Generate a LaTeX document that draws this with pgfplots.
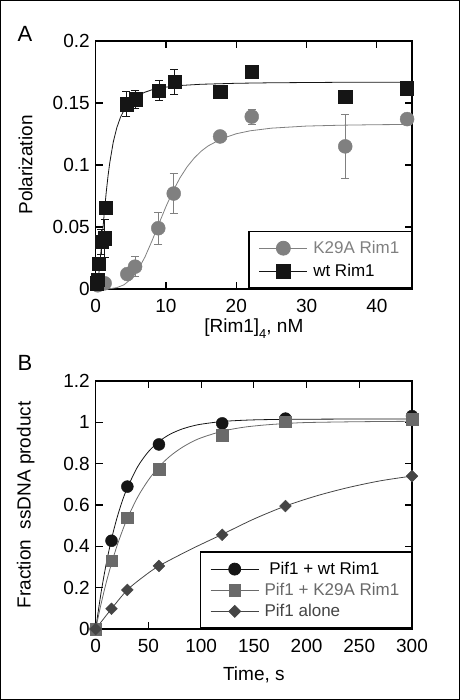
\documentclass[border=0pt]{standalone}
\usepackage{pgfplots}
\pgfplotsset{compat=1.18}
\usepackage{fontspec}
\setmainfont{Liberation Sans}
\definecolor{kgray}{HTML}{808080}
\definecolor{bgray}{HTML}{6A6A6A}
\definecolor{dgray}{HTML}{454545}
\definecolor{wblack}{HTML}{151515}

\pgfplotstableread{
x y e
0.09 0.0046 0.002
0.33 0.0073 0.003
0.47 0.0207 0.005
0.80 0.0380 0.010
1.27 0.0409 0.015
1.37 0.0656 0.003
4.36 0.1490 0.010
5.64 0.1530 0.007
9.00 0.1600 0.008
11.2 0.1670 0.010
17.7 0.1590 0.002
22.2 0.1750 0.002
35.5 0.1550 0.002
44.3 0.1620 0.002
}\wtA

\pgfplotstableread{
x y e
0.30 0.0030 0.002
1.27 0.0046 0.002
4.50 0.0120 0.003
5.60 0.0180 0.008
8.90 0.0490 0.013
11.1 0.0770 0.016
17.7 0.1230 0.002
22.2 0.1390 0.006
35.5 0.1150 0.026
44.3 0.1370 0.003
}\kA

\pgfplotstableread{
x y
0 0
0.25 0.0040
0.5 0.0149
0.75 0.0301
1 0.0469
1.25 0.0633
1.5 0.0781
1.75 0.0910
2 0.1018
2.5 0.1185
3 0.1300
3.5 0.1381
4 0.1440
5 0.1515
6 0.1559
7 0.1587
8 0.1606
10 0.1628
12 0.1641
15 0.1651
20 0.1659
25 0.1663
30 0.1665
35 0.1667
40 0.1667
45 0.1668
}\wtAfit

\pgfplotstableread{
x y
0 0
2 0.0002
3 0.0011
4 0.0033
5 0.0078
6 0.0153
7 0.0257
8 0.0387
9 0.0527
10 0.0665
11 0.0790
12 0.0897
13 0.0985
14 0.1055
15 0.1111
16 0.1154
18 0.1214
20 0.1252
22 0.1276
25 0.1297
30 0.1314
35 0.1321
40 0.1325
45 0.1327
}\kAfit

\pgfplotstableread{
x y
0 0
15 0.427
30 0.689
60 0.893
120 0.995
180 1.018
300 1.030
}\wtB

\pgfplotstableread{
x y
0 0
15 0.330
30 0.539
60 0.774
120 0.939
180 1.003
300 1.016
}\kB

\pgfplotstableread{
x y
0 0
15 0.098
30 0.189
60 0.305
120 0.456
180 0.595
300 0.740
}\aB

\pgfplotstableread{
x y
0 0
5 0.173
10 0.316
15 0.435
20 0.534
25 0.616
30 0.683
40 0.787
50 0.858
60 0.907
70 0.941
80 0.964
90 0.980
100 0.991
120 1.004
140 1.010
160 1.013
200 1.015
250 1.016
300 1.016
}\wtBfit

\pgfplotstableread{
x y
0 0
5 0.119
10 0.225
15 0.317
20 0.399
25 0.471
30 0.535
40 0.640
50 0.721
60 0.785
70 0.834
80 0.872
90 0.902
100 0.925
120 0.957
140 0.976
160 0.987
180 0.994
200 0.999
250 1.003
300 1.005
}\kBfit

\pgfplotstableread{
x y
0 0
15 0.098
30 0.189
45 0.252
60 0.305
90 0.385
120 0.458
150 0.532
180 0.595
210 0.645
240 0.685
270 0.717
300 0.740
}\aBfit

\pgfplotsset{
  myaxis/.style={
    scale only axis, width=316.3pt, height=248pt,
    axis line style={line width=1.4pt},
    every tick/.style={line width=1.1pt, black},
    tick align=inside, major tick length=7pt,
    minor tick num=0,
    /pgf/number format/assume math mode=true,
    tick label style={font=\fontsize{19}{22}\selectfont},
    xticklabel style={yshift=-6.5pt},
    yticklabel style={xshift=-2.5pt},
    label style={font=\fontsize{19}{22}\selectfont},
    clip=false,
    legend cell align=left,
    legend style={font=\fontsize{17}{20}\selectfont, draw=black, line width=1.5pt,
      at={(1,0)}, anchor=south east, inner xsep=10pt, inner ysep=8pt,
      column sep=3.5pt,
      nodes={inner sep=2pt, text depth=0.15em}},
    legend image code/.code={%
      \draw[mark repeat=2,mark phase=2,line width=0.8pt]
        plot coordinates {(0pt,0pt) (24pt,0pt) (48pt,0pt)};},
  },
  ebar/.style={error bars/.cd, y dir=both, y explicit,
    error bar style={line width=0.7pt}, error mark options={rotate=90, mark size=4pt, line width=0.7pt},
    /pgfplots/.cd},
}

\begin{document}
\begin{tikzpicture}[x=1pt,y=1pt]
\path[use as bounding box] (0,0) rectangle (460,700);
\draw[line width=1.3pt] (0.65,0.65) rectangle (459.35,699.35);

\node[font=\fontsize{22}{26}\selectfont] at (25,666.5) {A};
\node[font=\fontsize{22}{26}\selectfont] at (25,337.5) {B};

% Panel A
\begin{axis}[myaxis,
  at={(95.7pt,411pt)}, anchor=south west,
  xmin=0, xmax=45, ymin=0, ymax=0.2,
  xtick={0,10,20,30,40}, ytick={0,0.05,0.1,0.15,0.2},
  yticklabels={0,0.05,0.1,0.15,0.2},
  xlabel={[Rim1]\raisebox{-0.55ex}{\fontsize{13}{14}\selectfont 4}, nM},
  ylabel={Polarization},
  x label style={at={([yshift=-39.5pt]axis description cs:0.5,0)}, anchor=center},
  y label style={at={([xshift=-70pt]axis description cs:0,0.5)}, anchor=center, rotate=0},
  legend style={row sep=5.3pt},
]
\addplot[kgray, line width=0.8pt, forget plot] table {\kAfit};
\addplot[wblack, line width=0.8pt, forget plot] table {\wtAfit};
\addplot[forget plot, only marks, mark=*, mark size=7pt, kgray, mark options={draw=kgray, fill=kgray},
  ebar] table[x=x, y=y, y error=e] {\kA};
\addplot[forget plot, only marks, mark=square*, mark size=6.6pt, wblack, mark options={draw=wblack, fill=wblack},
  ebar] table[x=x, y=y, y error=e] {\wtA};
\addlegendimage{kgray, mark=*, mark size=7pt, mark options={fill=kgray}}
\addlegendentry{\textcolor{kgray}{K29A Rim1}}
\addlegendimage{wblack, mark=square*, mark size=6.6pt, mark options={fill=wblack}}
\addlegendentry{wt Rim1}
\end{axis}

% Panel B
\begin{axis}[myaxis,
  at={(95.7pt,71pt)}, anchor=south west,
  xmin=0, xmax=300, ymin=0, ymax=1.2,
  xtick={0,50,100,150,200,250,300}, ytick={0,0.2,0.4,0.6,0.8,1,1.2},
  yticklabels={0,0.2,0.4,0.6,0.8,1,1.2},
  xlabel={Time, s},
  ylabel={Fraction\ \ ssDNA product},
  x label style={at={([yshift=-46pt]axis description cs:0.5,0)}, anchor=center},
  y label style={at={([xshift=-70pt]axis description cs:0,0.5)}, anchor=center, rotate=0},
  legend style={row sep=3.3pt},
]
\addplot[wblack, line width=0.8pt, smooth, forget plot] table {\wtBfit};
\addplot[bgray, line width=0.8pt, smooth, forget plot] table {\kBfit};
\addplot[dgray, line width=0.8pt, smooth, forget plot] table {\aBfit};
\addplot[only marks, mark=*, mark size=6pt, wblack, mark options={fill=wblack}, forget plot] table {\wtB};
\addplot[only marks, mark=square*, mark size=5.8pt, bgray, mark options={fill=bgray}, forget plot] table {\kB};
\addplot[only marks, mark=square*, mark size=4.2pt, dgray, mark options={fill=dgray, rotate=45}, forget plot] table {\aB};
\addlegendimage{wblack, mark=*, mark size=6pt, mark options={fill=wblack}}
\addlegendentry{\ Pif1 + wt Rim1}
\addlegendimage{bgray, mark=square*, mark size=5.8pt, mark options={fill=bgray}}
\addlegendentry{\textcolor{bgray}{Pif1 + K29A Rim1}}
\addlegendimage{dgray, mark=square*, mark size=4.2pt, mark options={fill=dgray, rotate=45}}
\addlegendentry{\textcolor{dgray}{Pif1 alone}}
\end{axis}
\end{tikzpicture}
\end{document}
